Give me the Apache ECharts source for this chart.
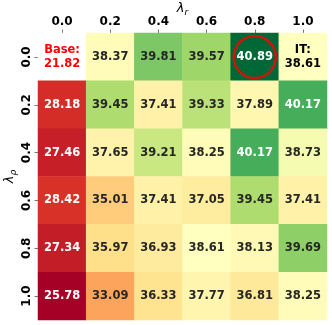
<!DOCTYPE html>
<html><head><meta charset="utf-8">
<script src="https://cdn.jsdelivr.net/npm/echarts@6/dist/echarts.min.js"></script>
<style>html,body{margin:0;padding:0;background:#fff}#c{width:332px;height:325px}</style>
</head><body><div id="c"></div>
<script>
const colLabels = ['0.0','0.2','0.4','0.6','0.8','1.0'];
const rowLabels = ['0.0','0.2','0.4','0.6','0.8','1.0'];
const row00 = [21.82, 38.37, 39.81, 39.57, 40.89, 38.61];
const row02 = [28.18, 39.45, 37.41, 39.33, 37.89, 40.17];
const row04 = [27.46, 37.65, 39.21, 38.25, 40.17, 38.73];
const row06 = [28.42, 35.01, 37.41, 37.05, 39.45, 37.41];
const row08 = [27.34, 35.97, 36.93, 38.61, 38.13, 39.69];
const row10 = [25.78, 33.09, 36.33, 37.77, 36.81, 38.25];
const rows = [row00, row02, row04, row06, row08, row10];
const baseCell = [0, 0];   // [col,row]
const itCell = [5, 0];
const bestCell = [4, 0];

const stops = ['#a50026','#d73027','#f46d43','#fdae61','#fee08b','#ffffbf','#d9ef8b','#a6d96a','#66bd63','#1a9850','#006837'];
function hex(h){return [parseInt(h.substr(1,2),16),parseInt(h.substr(3,2),16),parseInt(h.substr(5,2),16)];}
function cmap(t){
  t=Math.max(0,Math.min(1,t));
  const p=t*(stops.length-1); const i=Math.min(Math.floor(p),stops.length-2); const f=p-i;
  const a=hex(stops[i]), b=hex(stops[i+1]);
  return a.map((v,k)=>Math.round(v+(b[k]-v)*f));
}
const allVals=[]; rows.forEach((r,ri)=>r.forEach((v,ci)=>{ if(!(ci===baseCell[0]&&ri===baseCell[1])) allVals.push(v);}));
const vmin=Math.min(...allVals), vmax=Math.max(...allVals), vcenter=rows[itCell[1]][itCell[0]];
function norm(v){ return v<vcenter ? 0.5*(v-vmin)/(vcenter-vmin) : 0.5+0.5*(v-vcenter)/(vmax-vcenter); }
function lin(c){c/=255;return c<=0.03928?c/12.92:Math.pow((c+0.055)/1.055,2.4);}
function lum(rgb){return 0.2126*lin(rgb[0])+0.7152*lin(rgb[1])+0.0722*lin(rgb[2]);}

const data=[];
rows.forEach((r,ri)=>r.forEach((v,ci)=>{
  const isBase = ci===baseCell[0]&&ri===baseCell[1];
  const isIT = ci===itCell[0]&&ri===itCell[1];
  const rgb = cmap(norm(v));
  const col = isBase ? '#ffffff' : 'rgb('+rgb.join(',')+')';
  const txt = isBase ? '#ff0000' : (isIT ? '#000000' : (lum(rgb)>0.408 ? '#262626' : '#ffffff'));
  const lab = isBase ? 'Base:\n'+v.toFixed(2) : (isIT ? 'IT:\n'+v.toFixed(2) : v.toFixed(2));
  data.push({value:[ci,ri,v], itemStyle:{color:col}, label:{color:txt, formatter:lab}});
}));

const FF='DejaVu Sans';
const chart=echarts.init(document.getElementById('c'),null,{renderer:'canvas'});
chart.setOption({
  animation:false,
  backgroundColor:'#fff',
  grid:{left:38,top:33,right:5,bottom:5,containLabel:false,outerBoundsMode:'none'},
  xAxis:{type:'category',position:'top',data:colLabels,
    axisLine:{show:false},splitLine:{show:false},
    axisTick:{show:true,alignWithLabel:true,length:3.5,lineStyle:{color:'#555',width:0.8}},
    axisLabel:{margin:5,fontFamily:FF,fontWeight:'bold',fontSize:12,color:'#000'},
    name:'{i|λ}{s|r}',nameLocation:'middle',nameGap:16,nameMoveOverlap:false,
    nameTextStyle:{rich:{i:{fontFamily:FF,fontStyle:'italic',fontSize:13,color:'#000'},s:{fontFamily:FF,fontStyle:'italic',fontSize:9,color:'#000',padding:[7,0,0,0]}}}
  },
  yAxis:{type:'category',data:rowLabels,inverse:true,
    axisLine:{show:false},splitLine:{show:false},
    axisTick:{show:true,alignWithLabel:true,length:3.5,lineStyle:{color:'#555',width:0.8}},
    axisLabel:{margin:5,rotate:90,fontFamily:FF,fontWeight:'bold',fontSize:12,color:'#000'},
    name:'{i|λ}{s|ρ}',nameLocation:'middle',nameGap:20,nameRotate:90,nameMoveOverlap:false,
    nameTextStyle:{rich:{i:{fontFamily:FF,fontStyle:'italic',fontSize:13,color:'#000'},s:{fontFamily:FF,fontStyle:'italic',fontSize:9,color:'#000',padding:[7,0,0,0]}}}
  },
  series:[
    {type:'heatmap',data:data,itemStyle:{borderWidth:0},
     label:{show:true,fontFamily:FF,fontWeight:'bold',fontSize:11.5,lineHeight:14}},
    {type:'scatter',data:[[bestCell[0],bestCell[1]]],symbol:'circle',symbolSize:42,z:5,
     itemStyle:{color:'rgba(0,0,0,0)',borderColor:'#ff0000',borderWidth:2.5},silent:true}
  ]
});
</script></body></html>
